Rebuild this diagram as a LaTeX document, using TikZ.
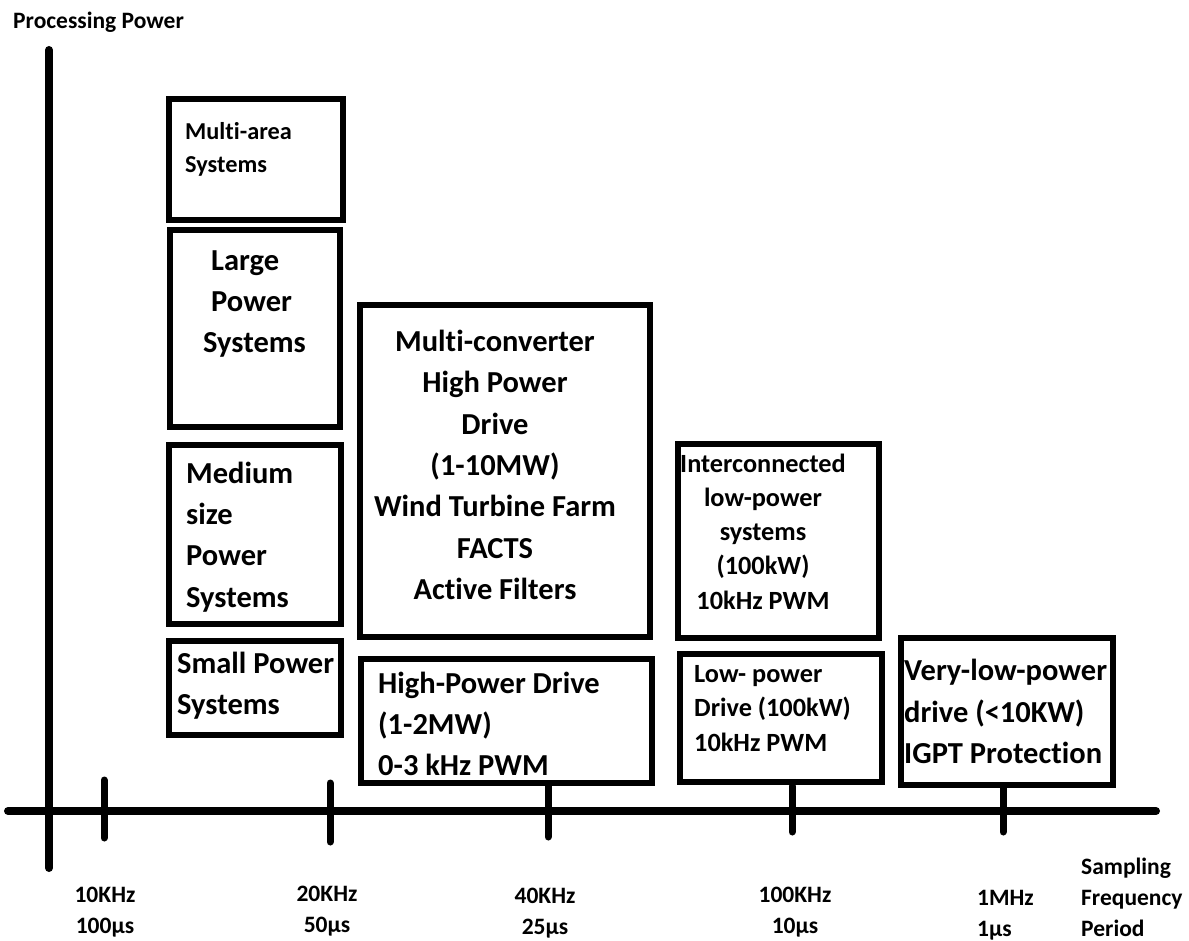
\documentclass[tikz,border=0pt]{standalone}
\usepackage{fontspec}
\setmainfont{Carlito}[Ligatures=NoCommon]
\begin{document}
\begin{tikzpicture}[x=1pt,y=-1pt,
  box/.style={draw, line width=6pt, inner sep=0pt},
  axisline/.style={line width=8pt, line cap=round},
  tickline/.style={line width=7pt, line cap=round},
  small/.style={font=\bfseries\fontsize{23.5}{31}\selectfont, inner sep=0pt},
  smalltxt/.style={font=\bfseries\fontsize{24.3}{33}\selectfont, inner sep=0pt, align=left, anchor=west},
  big/.style={font=\bfseries\fontsize{30.5}{41.3}\selectfont, inner sep=0pt},
  mid/.style={font=\bfseries\fontsize{26.3}{34.3}\selectfont, inner sep=0pt}]
\useasboundingbox[fill=white] (0,0) rectangle (1189,941);

% axes
\coordinate (ytop) at (49,50);
\coordinate (ybot) at (49,868);
\coordinate (xl) at (8,811);
\coordinate (xr) at (1156,811);
\draw[axisline] (ytop) -- (ybot);
\draw[axisline] (xl) -- (xr);

% ticks
\coordinate (k1a) at (104,780); \coordinate (k1b) at (104,838);
\coordinate (k2a) at (330,783); \coordinate (k2b) at (330,842);
\coordinate (k3a) at (548,785); \coordinate (k3b) at (548,837);
\coordinate (k4a) at (792,786); \coordinate (k4b) at (792,832);
\coordinate (k5a) at (1003,788); \coordinate (k5b) at (1003,832);
\draw[tickline] (k1a) -- (k1b);
\draw[tickline] (k2a) -- (k2b);
\draw[tickline] (k3a) -- (k3b);
\draw[tickline] (k4a) -- (k4b);
\draw[tickline] (k5a) -- (k5b);

% boxes
\node[box, minimum width=174pt, minimum height=121pt] (b1) at (256,159.5) {};
\node[box, minimum width=170pt, minimum height=197pt] (b2) at (255,328.5) {};
\node[box, minimum width=172pt, minimum height=179pt] (b3) at (255,534.5) {};
\node[box, minimum width=172pt, minimum height=94pt]  (b4) at (255,688) {};
\node[box, minimum width=290pt, minimum height=332pt] (b5) at (505,471) {};
\node[box, minimum width=291pt, minimum height=124pt] (b6) at (506.5,721) {};
\node[box, minimum width=201pt, minimum height=194pt] (b7) at (778.5,541) {};
\node[box, minimum width=202pt, minimum height=128pt] (b8) at (781,718) {};
\node[box, minimum width=212pt, minimum height=147pt] (b9) at (1007,711.5) {};

% box texts
\node[smalltxt] (t1) at (185,149.5) {Multi-area\\Systems};
\node[big, align=left, anchor=west] (t2) at (203,304) {\hspace*{8pt}Large\\\hspace*{8pt}Power\\Systems};
\node[big, align=left, anchor=west] (t3) at (186,537) {Medium\\size\\Power\\Systems};
\node[big, align=left, anchor=west] (t4) at (177,686) {Small Power\\Systems};
\node[big, align=center] (t5) at (495,465) {Multi-converter\\High Power\\Drive\\(1-10MW)\\Wind Turbine Farm\\FACTS\\Active Filters};
\node[big, align=left, anchor=west] (t6) at (378,724) {High-Power Drive\\(1-2MW)\\0-3 kHz PWM};
\node[mid, align=center] (t7) at (763,531.5) {Interconnected\\low-power\\systems\\(100kW)\\10kHz PWM};
\node[mid, align=left, anchor=west] (t8) at (694,708.5) {Low- power\\Drive (100kW)\\10kHz PWM};
\node[big, align=left, anchor=west] (t9) at (904,711.5) {Very-low-power\\drive (<10KW)\\IGPT Protection};

% axis labels
\node[small, anchor=west] (pp) at (13,22) {Processing Power};
\node[small, align=center] (l1) at (105,912) {10KHz\\100µs};
\node[small, align=center] (l2) at (327,911) {20KHz\\50µs};
\node[small, align=center] (l3) at (545,913) {40KHz\\25µs};
\node[small, align=center] (l4) at (795,912) {100KHz\\10µs};
\node[small, align=left, anchor=west] (l5) at (977,915) {1MHz\\1µs};
\node[small, align=left, anchor=west] (l6) at (1081,897) {Sampling\\Frequency\\Period};
\end{tikzpicture}
\end{document}
